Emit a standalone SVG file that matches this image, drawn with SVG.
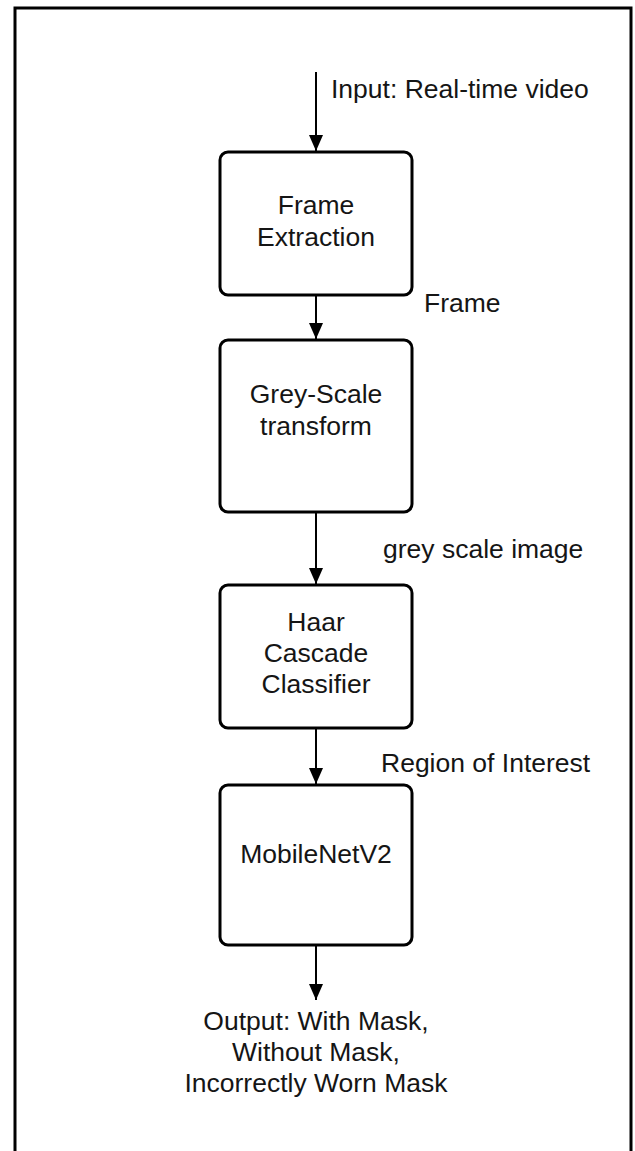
<svg xmlns="http://www.w3.org/2000/svg" width="635" height="1151" viewBox="0 0 635 1151">
<style>
.box{fill:#fff;stroke:#000;stroke-width:3}
.t{font-family:"Liberation Sans",Arial,sans-serif;font-size:26.5px;fill:#151515;text-anchor:middle}
.l{font-family:"Liberation Sans",Arial,sans-serif;font-size:26.5px;fill:#151515}
.c{stroke:#000;stroke-width:2;fill:none}
</style>
<defs>
<marker id="ah" markerWidth="16" markerHeight="14" refX="16" refY="7" orient="auto" markerUnits="userSpaceOnUse">
<path d="M0,0 L16,7 L0,14 Z" fill="#000"/>
</marker>
</defs>
<rect x="0" y="0" width="635" height="1151" fill="#fff"/>
<rect id="frame" x="15" y="8" width="616" height="1165" fill="none" stroke="#000" stroke-width="3"/>
<g id="connectors">
<line class="c" x1="316" y1="72" x2="316" y2="151" marker-end="url(#ah)"/>
<line class="c" x1="316" y1="295" x2="316" y2="339" marker-end="url(#ah)"/>
<line class="c" x1="316" y1="512" x2="316" y2="584" marker-end="url(#ah)"/>
<line class="c" x1="316" y1="728" x2="316" y2="784" marker-end="url(#ah)"/>
<line class="c" x1="316" y1="945" x2="316" y2="1000" marker-end="url(#ah)"/>
</g>
<g id="labels">
<text class="l" x="331" y="98">Input: Real-time video</text>
<text class="l" x="424" y="312">Frame</text>
<text class="l" x="383" y="558">grey scale image</text>
<text class="l" x="381" y="772">Region of Interest</text>
</g>
<g id="frame-extraction">
<rect class="box" x="220" y="152" width="192" height="143" rx="8"/>
<text class="t" x="316" y="214">Frame</text>
<text class="t" x="316" y="246">Extraction</text>
</g>
<g id="grey-scale">
<rect class="box" x="220" y="340" width="192" height="172" rx="8"/>
<text class="t" x="316" y="403">Grey-Scale</text>
<text class="t" x="316" y="435">transform</text>
</g>
<g id="haar">
<rect class="box" x="220" y="585" width="192" height="143" rx="8"/>
<text class="t" x="316" y="631">Haar</text>
<text class="t" x="316" y="662">Cascade</text>
<text class="t" x="316" y="693">Classifier</text>
</g>
<g id="mobilenet">
<rect class="box" x="220" y="785" width="192" height="160" rx="8"/>
<text class="t" x="316" y="863">MobileNetV2</text>
</g>
<g id="output">
<text class="t" x="316" y="1030">Output: With Mask,</text>
<text class="t" x="316" y="1061">Without Mask,</text>
<text class="t" x="316" y="1092">Incorrectly Worn Mask</text>
</g>
</svg>
